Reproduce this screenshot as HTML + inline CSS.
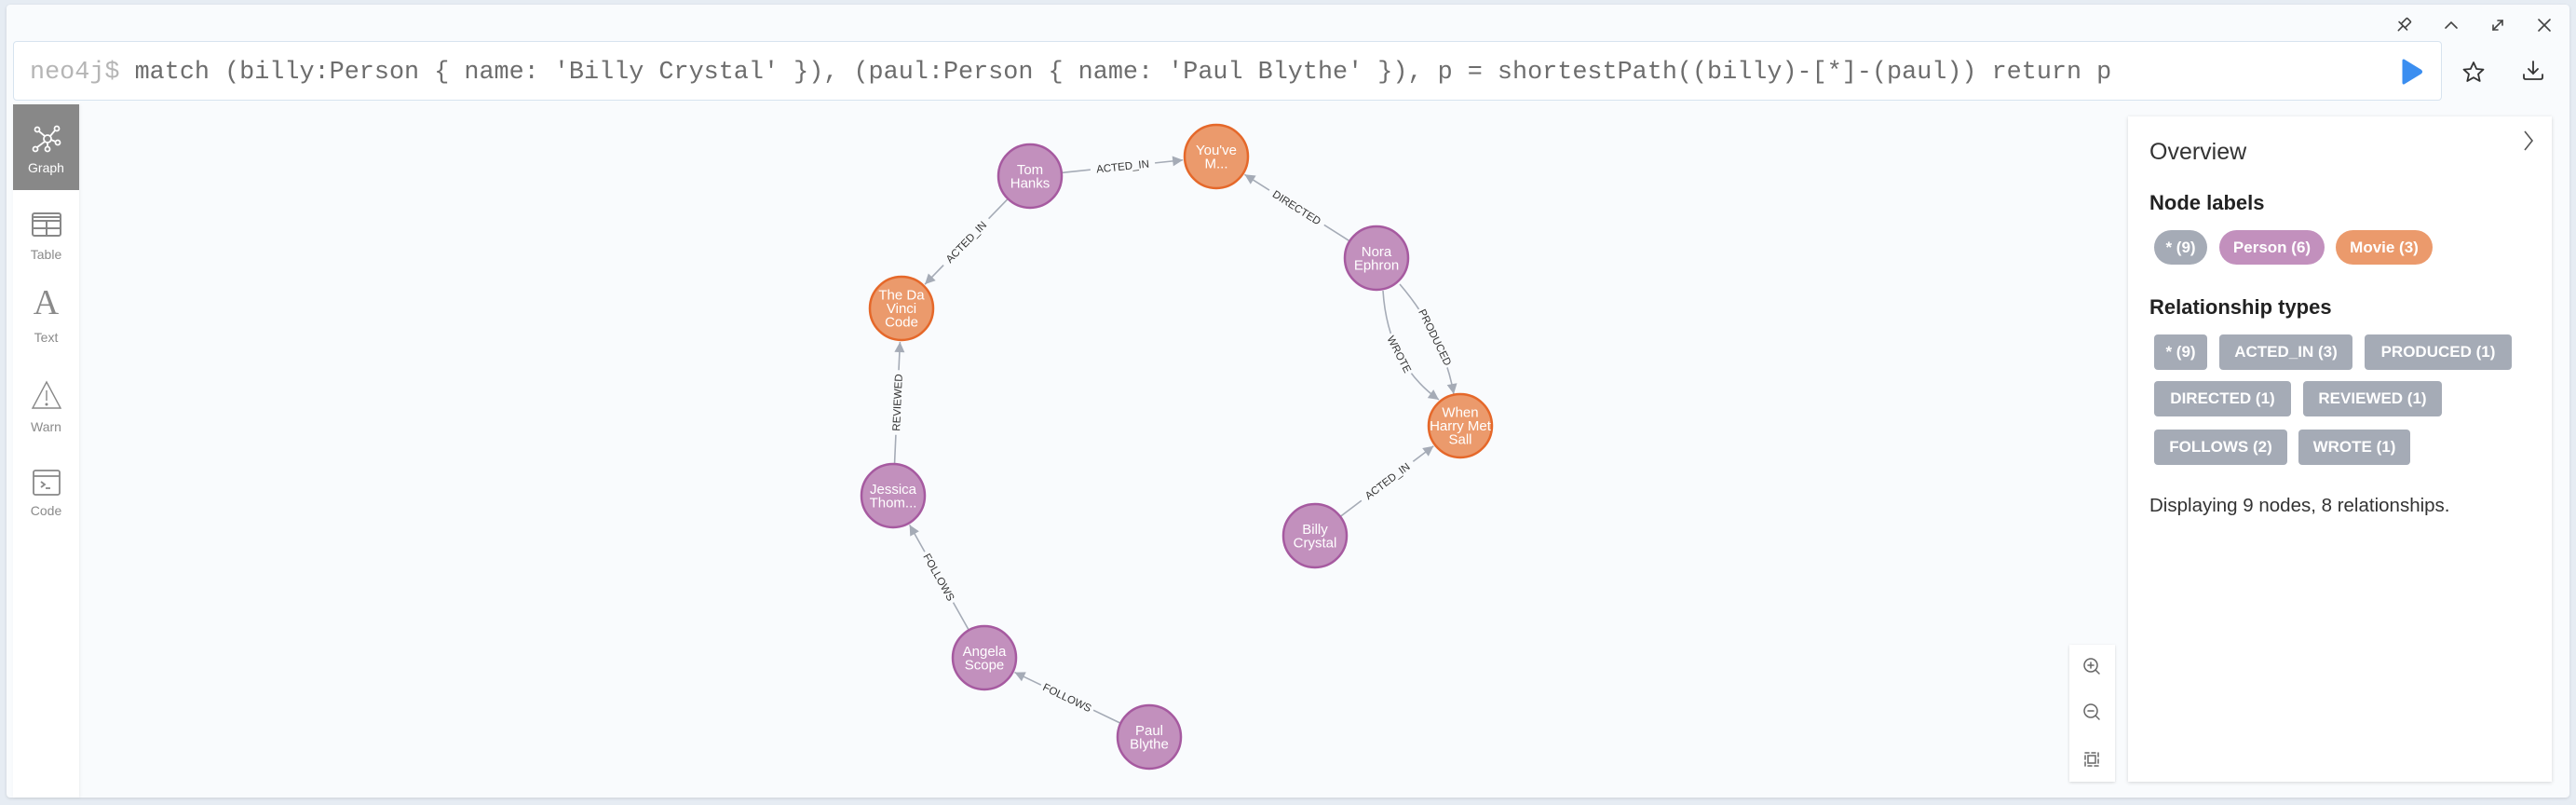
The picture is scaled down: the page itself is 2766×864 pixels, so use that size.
<!DOCTYPE html>
<html><head><meta charset="utf-8"><style>
html,body{margin:0;padding:0;}
body{width:2766px;height:864px;background:#e6ecf3;position:relative;overflow:hidden;font-family:"Liberation Sans",sans-serif;}
.frame{position:absolute;left:7px;top:5px;width:2752px;height:851px;background:#f9fbfd;border-radius:4px;box-shadow:0 1px 3px rgba(0,0,0,0.12);}
.abs{position:absolute;}
.query{left:14px;top:44px;width:2608px;height:64px;background:#fff;border:1px solid #d7e3ef;border-radius:4px;box-sizing:border-box;}
.qtext{left:32px;top:61px;font-family:"Liberation Mono",monospace;font-size:26.8px;color:#6d6d6d;white-space:pre;line-height:34px;}
.side{left:14px;top:112px;width:71px;height:744px;background:#fff;box-shadow:1px 0 3px rgba(0,0,0,0.06);}
.sbtn{position:absolute;left:0;width:71px;text-align:center;font-size:14px;color:#8a8a8a;}
.panel{left:2285px;top:125px;width:455px;height:714px;background:#fff;box-shadow:0 1px 4px rgba(0,0,0,0.15);}
.pill{position:absolute;height:37px;line-height:37px;color:#fff;font-weight:bold;font-size:17px;text-align:center;border-radius:19px;}
.tag{position:absolute;height:38px;line-height:38px;color:#fff;font-weight:bold;font-size:17px;text-align:center;border-radius:4px;background:#a5abb6;}
.zoomc{left:2222px;top:692px;width:49px;height:147px;background:#fff;box-shadow:0 1px 3px rgba(0,0,0,0.15);}
</style></head><body>
<div class="frame"></div>
<svg class="abs" style="left:2560px;top:10px" width="200" height="34" viewBox="0 0 200 34" fill="none" stroke="#444" stroke-width="1.6" stroke-linecap="round">
  <g transform="translate(21,17) rotate(45)"><rect x="-3" y="-8" width="6" height="9" rx="1"/><line x1="-6" y1="1" x2="6" y2="1"/><line x1="0" y1="1" x2="0" y2="8"/></g>
  <polyline points="66,20 72,14 78,20"/>
  <g><line x1="117" y1="22" x2="127" y2="12"/><polyline points="117,17 117,22 122,22"/><polyline points="122,12 127,12 127,17"/></g>
  <line x1="166" y1="11" x2="178" y2="23"/><line x1="178" y1="11" x2="166" y2="23"/>
</svg>
<div class="abs query"></div>
<div class="abs qtext"><span style="color:#b5b5b5">neo4j$</span> match (billy:Person { name: 'Billy Crystal' }), (paul:Person { name: 'Paul Blythe' }), p = shortestPath((billy)-[*]-(paul)) return p</div>
<svg class="abs" style="left:2578px;top:62px" width="24" height="30"><path d="M3 3 L21 14 Q22 15 21 16 L3 27 Z" fill="#3b8ef0" stroke="#3b8ef0" stroke-width="3" stroke-linejoin="round"/></svg>
<svg class="abs" style="left:2642px;top:64px" width="28" height="28" viewBox="0 0 28 28"><path d="M14 3 L17.2 10 L24.5 10.6 L19 15.6 L20.7 23 L14 19.2 L7.3 23 L9 15.6 L3.5 10.6 L10.8 10 Z" fill="none" stroke="#333" stroke-width="1.8" stroke-linejoin="round"/></svg>
<svg class="abs" style="left:2706px;top:62px" width="28" height="28" viewBox="0 0 28 28" fill="none" stroke="#333" stroke-width="1.8" stroke-linecap="round"><line x1="14" y1="4" x2="14" y2="17"/><polyline points="9,12 14,17 19,12"/><path d="M4 18 v3 q0 2 2 2 h16 q2 0 2 -2 v-3"/></svg>

<div class="abs side">
  <div style="position:absolute;left:0;top:0;width:71px;height:92px;background:#888"></div>
  <svg class="abs" style="left:20px;top:20px" width="32" height="32" viewBox="0 0 32 32" fill="none" stroke="#fff" stroke-width="1.8"><circle cx="17" cy="17" r="4"/><circle cx="6" cy="7" r="2.5"/><circle cx="27" cy="6" r="2.5"/><circle cx="4" cy="28" r="2.5"/><circle cx="17" cy="28" r="2.5"/><circle cx="28" cy="21" r="2.5"/><line x1="8" y1="9" x2="14" y2="14"/><line x1="25" y1="8" x2="20" y2="14"/><line x1="6" y1="26" x2="14" y2="20"/><line x1="17" y1="21" x2="17" y2="25.5"/><line x1="21" y1="18" x2="25.5" y2="20"/></svg>
  <div class="sbtn" style="top:60px;color:#fff">Graph</div>
  <svg class="abs" style="left:20px;top:116px" width="32" height="26" viewBox="0 0 32 26" fill="none" stroke="#888" stroke-width="2"><rect x="1" y="1" width="30" height="24" rx="2"/><line x1="1" y1="9" x2="31" y2="9"/><line x1="1" y1="17" x2="31" y2="17"/><line x1="16" y1="9" x2="16" y2="25"/><line x1="1" y1="5" x2="31" y2="5"/></svg>
  <div class="sbtn" style="top:153px">Table</div>
  <div class="sbtn" style="top:193px;font-family:'Liberation Serif',serif;font-size:38px;color:#8a8a8a;font-weight:normal;line-height:40px">A</div>
  <div class="sbtn" style="top:242px">Text</div>
  <svg class="abs" style="left:19px;top:296px" width="34" height="32" viewBox="0 0 34 32" fill="none" stroke="#888" stroke-width="1.4"><path d="M17 2 L32 30 H2 Z"/><line x1="17" y1="11" x2="17" y2="22"/><circle cx="17" cy="26" r="0.8" fill="#888"/></svg>
  <div class="sbtn" style="top:338px">Warn</div>
  <svg class="abs" style="left:21px;top:392px" width="30" height="28" viewBox="0 0 30 28" fill="none" stroke="#888" stroke-width="1.8"><rect x="1" y="1" width="28" height="26" rx="2"/><line x1="1" y1="7" x2="29" y2="7"/><polyline points="9,13 13,16 9,19"/><line x1="14" y1="20" x2="19" y2="20"/></svg>
  <div class="sbtn" style="top:428px">Code</div>
</div>

<svg class="abs" style="left:0;top:0" width="2766" height="864" id="g"></svg>

<div class="abs zoomc"></div>
<svg class="abs" style="left:2222px;top:692px" width="49" height="147" viewBox="0 0 49 147" fill="none" stroke="#666" stroke-width="1.5" stroke-linecap="round">
  <circle cx="23" cy="22" r="7"/><line x1="28" y1="27" x2="32" y2="31"/><line x1="20" y1="22" x2="26" y2="22"/><line x1="23" y1="19" x2="23" y2="25"/>
  <circle cx="23" cy="71" r="7"/><line x1="28" y1="76" x2="32" y2="80"/><line x1="20" y1="71" x2="26" y2="71"/>
  <rect x="17" y="116" width="14" height="14" stroke-dasharray="4 3"/><rect x="20" y="119" width="8" height="8"/>
</svg>

<div class="abs panel">
  <svg class="abs" style="left:422px;top:14px" width="16" height="24"><polyline points="4,2 12,12 4,22" fill="none" stroke="#555" stroke-width="1.6"/></svg>
  <div class="abs" style="left:23px;top:24px;font-size:25px;color:#333">Overview</div>
  <div class="abs" style="left:23px;top:80px;font-size:22px;font-weight:bold;color:#222">Node labels</div>
  <div class="pill" style="left:28px;top:122px;width:57px;background:#a5abb6">* (9)</div>
  <div class="pill" style="left:98px;top:122px;width:113px;background:#c290bd">Person (6)</div>
  <div class="pill" style="left:223px;top:122px;width:104px;background:#eb9a6c">Movie (3)</div>
  <div class="abs" style="left:23px;top:192px;font-size:22px;font-weight:bold;color:#222">Relationship types</div>
  <div class="tag" style="left:28px;top:234px;width:57px">* (9)</div>
  <div class="tag" style="left:98px;top:234px;width:143px">ACTED_IN (3)</div>
  <div class="tag" style="left:254px;top:234px;width:158px">PRODUCED (1)</div>
  <div class="tag" style="left:28px;top:284px;width:147px">DIRECTED (1)</div>
  <div class="tag" style="left:188px;top:284px;width:149px">REVIEWED (1)</div>
  <div class="tag" style="left:28px;top:336px;width:143px">FOLLOWS (2)</div>
  <div class="tag" style="left:183px;top:336px;width:120px">WROTE (1)</div>
  <div class="abs" style="left:23px;top:406px;font-size:20.5px;color:#333">Displaying 9 nodes, 8 relationships.</div>
</div>

<script>
var NS="http://www.w3.org/2000/svg",g=document.getElementById("g");
var N={
 tom:[1106,189,"P",["Tom","Hanks"]],
 you:[1306,168,"M",["You've","M..."]],
 nora:[1478,277,"P",["Nora","Ephron"]],
 dav:[968,331,"M",["The Da","Vinci","Code"]],
 when:[1568,457,"M",["When","Harry Met","Sall"]],
 jes:[959,532,"P",["Jessica","Thom..."]],
 bil:[1412,575,"P",["Billy","Crystal"]],
 ang:[1057,706,"P",["Angela","Scope"]],
 pau:[1234,791,"P",["Paul","Blythe"]]
};
var R=35;
function el(t,a,p){var e=document.createElementNS(NS,t);for(var k in a)e.setAttribute(k,a[k]);(p||g).appendChild(e);return e;}
function arrow(x,y,ang){var s=11,w=5.5;var c=Math.cos(ang),si=Math.sin(ang);
 var bx=x-c*s,by=y-si*s;el("polygon",{points:x+","+y+" "+(bx-si*w)+","+(by+c*w)+" "+(bx+si*w)+","+(by-c*w),fill:"#a5abb6"});}
function label(x,y,ang,t){var d=ang*180/Math.PI;if(d>90)d-=180;if(d<=-90)d+=180;
 var gr=el("g",{transform:"translate("+x+","+y+") rotate("+d+")"});
 var w=t.length*7.2+12;el("rect",{x:-w/2,y:-8,width:w,height:16,fill:"#f9fbfd"},gr);
 var tx=el("text",{x:0,y:4,"text-anchor":"middle","font-size":"11.5","fill":"#333","font-family":"Liberation Sans, sans-serif"},gr);tx.textContent=t;}
function edge(a,b,t){var A=N[a],B=N[b];var dx=B[0]-A[0],dy=B[1]-A[1],L=Math.hypot(dx,dy),ux=dx/L,uy=dy/L;
 var x1=A[0]+ux*R,y1=A[1]+uy*R,x2=B[0]-ux*(R+1),y2=B[1]-uy*(R+1);
 el("line",{x1:x1,y1:y1,x2:x2,y2:y2,stroke:"#a5abb6","stroke-width":1.6});
 arrow(x2,y2,Math.atan2(dy,dx));label((x1+x2)/2,(y1+y2)/2,Math.atan2(dy,dx),t);}
function curve(p0,c,p1,t){
 el("path",{d:"M"+p0+" Q"+c+" "+p1,fill:"none",stroke:"#a5abb6","stroke-width":1.6});
 var ang=Math.atan2(p1[1]-c[1],p1[0]-c[0]);arrow(p1[0],p1[1],ang);
 var mx=0.25*p0[0]+0.5*c[0]+0.25*p1[0],my=0.25*p0[1]+0.5*c[1]+0.25*p1[1];
 label(mx,my,Math.atan2(p1[1]-p0[1],p1[0]-p0[0]),t);}
edge("tom","you","ACTED_IN");
edge("tom","dav","ACTED_IN");
edge("nora","you","DIRECTED");
edge("bil","when","ACTED_IN");
edge("jes","dav","REVIEWED");
edge("ang","jes","FOLLOWS");
edge("pau","ang","FOLLOWS");
curve([1485,312],[1490,390],[1545,429],"WROTE");
curve([1503,305],[1550,360],[1561,423],"PRODUCED");
for(var k in N){var n=N[k];var P=n[2]=="P";
 el("circle",{cx:n[0],cy:n[1],r:R-1,fill:P?"#c290bd":"#eb9a6c",stroke:P?"#a65aa0":"#e5682a","stroke-width":2.5});
 var ls=n[3],lh=14.5,y0=n[1]-(ls.length-1)*lh/2+5;
 for(var i=0;i<ls.length;i++){var t=el("text",{x:n[0],y:y0+i*lh,"text-anchor":"middle","font-size":"15",fill:"#fff","font-family":"Liberation Sans, sans-serif"});t.textContent=ls[i];}
}
</script>
</body></html>
